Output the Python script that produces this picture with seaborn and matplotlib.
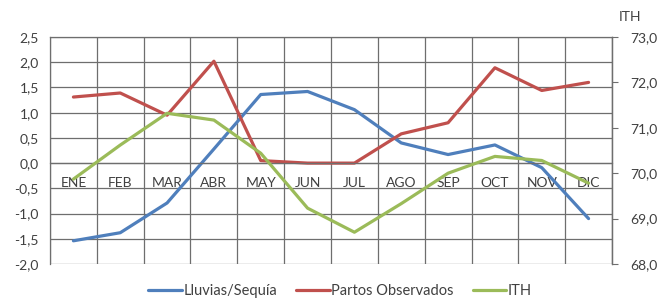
import pandas as pd
import numpy as np
import seaborn as sns
import matplotlib.pyplot as plt
from matplotlib.ticker import FuncFormatter, FixedLocator

meses = ['ENE', 'FEB', 'MAR', 'ABR', 'MAY', 'JUN', 'JUL', 'AGO', 'SEP', 'OCT', 'NOV', 'DIC']
lluvias = [-1.54, -1.38, -0.79, 0.28, 1.36, 1.42, 1.06, 0.40, 0.17, 0.36, -0.09, -1.10]
partos = [1.31, 1.39, 0.95, 2.02, 0.05, 0.0, 0.0, 0.58, 0.80, 1.89, 1.44, 1.60]
ith = [69.87, 70.62, 71.32, 71.17, 70.44, 69.23, 68.70, 69.33, 70.0, 70.37, 70.28, 69.78]

sns.set_style('white')
plt.rcParams['font.family'] = ['Lato', 'DejaVu Sans']

df = pd.DataFrame({'pos': np.arange(12), 'Lluvias/Sequía': lluvias,
                   'Partos Observados': partos})
df_long = df.melt(id_vars='pos', var_name='serie', value_name='valor')
df_ith = pd.DataFrame({'pos': np.arange(12), 'ITH': ith})

azul, rojo, verde = '#4F7FBC', '#C0504D', '#9BBB59'
grid_c = '#6e6e6e'
txt_c = '#404040'

fig = plt.figure(figsize=(6.62, 3.01), dpi=100)
ax = fig.add_axes([50 / 662, 1 - 264 / 301, 562 / 662, 227 / 301])

sns.lineplot(data=df_long, x='pos', y='valor', hue='serie',
             palette=[azul, rojo], linewidth=2.3, ax=ax, legend=False)
ax2 = ax.twinx()
sns.lineplot(data=df_ith, x='pos', y='ITH', color=verde, linewidth=2.3,
             ax=ax2, legend=False)

coma = FuncFormatter(lambda v, p: f'{v:.1f}'.replace('.', ','))

ax.set_ylim(-2.0, 2.5)
ax.set_yticks(np.arange(-2.0, 2.51, 0.5))
ax.yaxis.set_major_formatter(coma)
ax.set_xlim(-0.5, 11.5)
ax.xaxis.set_major_locator(FixedLocator(np.arange(12)))
ax.set_xticklabels(meses)
ax.xaxis.set_minor_locator(FixedLocator(np.arange(-0.5, 12, 1)))
ax.grid(True, axis='y', which='major', color=grid_c, lw=0.9)
ax.grid(True, axis='x', which='minor', color=grid_c, lw=0.9)
ax.set_xlabel('')
ax.set_ylabel('')
ax.spines['bottom'].set_position(('data', 0))
for s in ax.spines.values():
    s.set_color(grid_c)
    s.set_linewidth(0.9)
ax.tick_params(axis='x', which='both', length=0, labelsize=10,
               labelcolor=txt_c, pad=10)
ax.tick_params(axis='y', length=0, labelsize=10, labelcolor=txt_c, pad=8)

ax2.set_ylim(68.0, 73.0)
ax2.set_yticks(np.arange(68, 73.1, 1))
ax2.yaxis.set_major_formatter(coma)
ax2.set_ylabel('')
ax2.set_xlim(-0.5, 11.5)
for s in ax2.spines.values():
    s.set_visible(False)
ax2.spines['right'].set_visible(True)
ax2.spines['right'].set_color(grid_c)
ax2.spines['right'].set_linewidth(0.9)
ax2.tick_params(axis='y', direction='out', length=4, color=grid_c,
                labelsize=10, labelcolor=txt_c, pad=9)
fig.text(630 / 662, 1 - 17 / 301, 'ITH', fontsize=10, color=txt_c,
         ha='center', va='center')

handles = [plt.Line2D([], [], color=c, lw=2.3) for c in (azul, rojo, verde)]
fig.legend(handles, ['Lluvias/Sequía', 'Partos Observados', 'ITH'],
           loc='center', bbox_to_anchor=(340 / 662, 1 - 291 / 301), ncol=3,
           frameon=False, fontsize=10.5, handlelength=2.3, handletextpad=0.1,
           columnspacing=1.3, labelcolor=txt_c)

fig.savefig('out.png', dpi=100)
